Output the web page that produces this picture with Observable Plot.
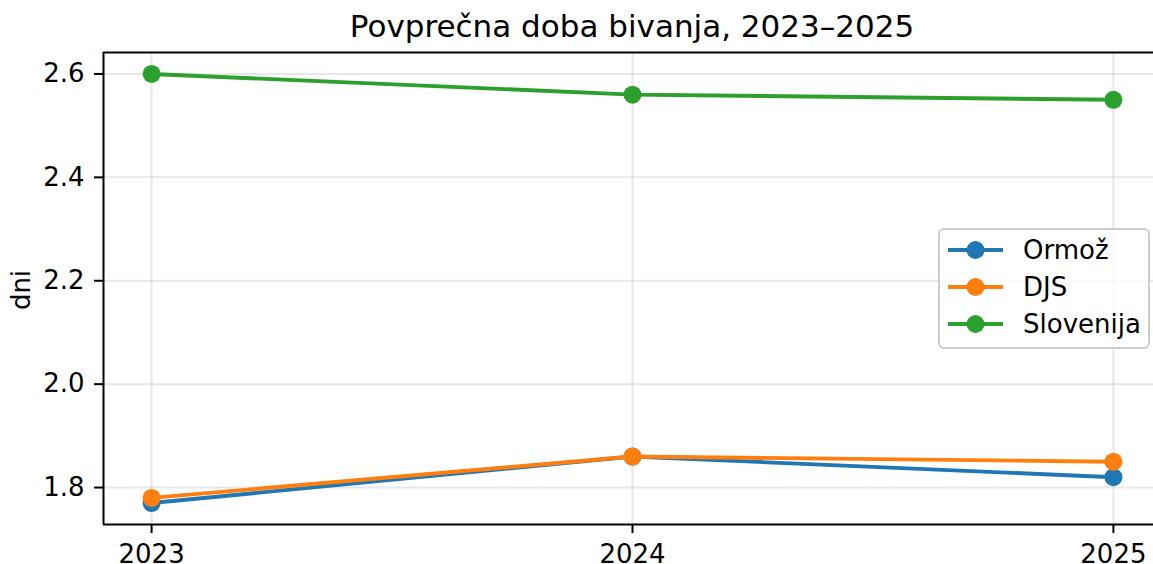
<!DOCTYPE html>
<html>
<head>
<meta charset="utf-8">
<script src="https://cdn.jsdelivr.net/npm/d3@7"></script>
<script src="https://cdn.jsdelivr.net/npm/@observablehq/plot@0.6"></script>
<style>
  html, body { margin: 0; padding: 0; background: #fff; }
  #chart { position: relative; width: 1153px; height: 564px; overflow: hidden; }
  svg { font-family: "DejaVu Sans", sans-serif; }
</style>
</head>
<body>
<div id="chart"></div>
<script>
const years = [2023, 2024, 2025];
const seriesNames = ["Ormož", "DJS", "Slovenija"];
const ormoz = [1.77, 1.86, 1.82];
const djs = [1.78, 1.86, 1.85];
const slovenija = [2.60, 2.56, 2.55];
const colors = ["#1f77b4", "#ff7f0e", "#2ca02c"];
const yTicks = [1.8, 2.0, 2.2, 2.4, 2.6];
const xTicks = [2023, 2024, 2025];
const titleText = "Povprečna doba bivanja, 2023–2025";
const yLabel = "dni";

const allSeries = [ormoz, djs, slovenija];
const rows = [];
allSeries.forEach((vals, i) => vals.forEach((v, j) => rows.push({series: seriesNames[i], year: years[j], value: v})));

const allVals = allSeries.flat();
const yMin = d3.min(allVals), yMax = d3.max(allVals);
const yPad = (yMax - yMin) * 0.05;
const yDomain = [yMin - yPad, yMax + yPad];
const xPad = (years[years.length - 1] - years[0]) * 0.05;
const xDomain = [years[0] - xPad, years[years.length - 1] + xPad];

const W = 1153, H = 564;
const mL = 103, mT = 52, mB = 40;
const xRange = [103, 1161];
const tickFont = 26;

const seriesMarks = [];
seriesNames.forEach((name, i) => {
  const d = rows.filter(r => r.series === name);
  seriesMarks.push(Plot.line(d, {x: "year", y: "value", stroke: colors[i], strokeWidth: 3.9}));
  seriesMarks.push(Plot.dot(d, {x: "year", y: "value", fill: colors[i], r: 9, stroke: "none"}));
});

const plot = Plot.plot({
  width: W,
  height: H,
  marginLeft: mL,
  marginRight: 0,
  marginTop: mT,
  marginBottom: mB,
  style: {fontFamily: "DejaVu Sans, sans-serif", color: "#000", background: "#fff"},
  x: {domain: xDomain, range: xRange},
  y: {domain: yDomain, range: [H - mB, mT]},
  marks: [
    Plot.gridX(xTicks, {stroke: "#b0b0b0", strokeOpacity: 0.3, strokeWidth: 2}),
    Plot.gridY(yTicks, {stroke: "#b0b0b0", strokeOpacity: 0.3, strokeWidth: 2}),
    ...seriesMarks,
    Plot.ruleX([xDomain[0]], {y1: yDomain[0], y2: yDomain[1], stroke: "#000", strokeWidth: 2}),
    Plot.ruleY([yDomain[0], yDomain[1]], {x1: xDomain[0], x2: xDomain[1], stroke: "#000", strokeWidth: 2}),
    Plot.axisX(xTicks, {tickSize: 9, tickPadding: 11, fontSize: tickFont, strokeWidth: 2, tickFormat: d => String(d), label: null}),
    Plot.axisY(yTicks, {tickSize: 9, tickPadding: 10, fontSize: tickFont, strokeWidth: 2, tickFormat: d3.format(".1f"), label: null})
  ]
});

document.getElementById("chart").appendChild(plot);
const svg = d3.select(plot);

// Title
svg.append("text")
  .attr("x", (xRange[0] + xRange[1]) / 2)
  .attr("y", 37)
  .attr("text-anchor", "middle")
  .attr("font-size", 31)
  .attr("fill", "#000")
  .text(titleText);

// Y label
svg.append("text")
  .attr("transform", `translate(30, ${(mT + H - mB) / 2 + 2}) rotate(-90)`)
  .attr("text-anchor", "middle")
  .attr("font-size", tickFont)
  .attr("fill", "#000")
  .text(yLabel);

// Legend
const lg = svg.append("g");
lg.append("rect")
  .attr("x", 939).attr("y", 229).attr("width", 210).attr("height", 119)
  .attr("rx", 5).attr("ry", 5)
  .attr("fill", "#fff").attr("fill-opacity", 0.8)
  .attr("stroke", "#cccccc").attr("stroke-width", 2);
seriesNames.forEach((name, i) => {
  const cy = 250 + i * 37;
  lg.append("line").attr("x1", 948).attr("x2", 1003).attr("y1", cy).attr("y2", cy)
    .attr("stroke", colors[i]).attr("stroke-width", 3.9);
  lg.append("circle").attr("cx", 975.5).attr("cy", cy).attr("r", 9).attr("fill", colors[i]);
  lg.append("text").attr("x", 1023).attr("y", cy).attr("dy", "0.36em")
    .attr("text-anchor", "start")
    .attr("font-size", tickFont).attr("fill", "#000").text(name);
});
</script>
</body>
</html>
